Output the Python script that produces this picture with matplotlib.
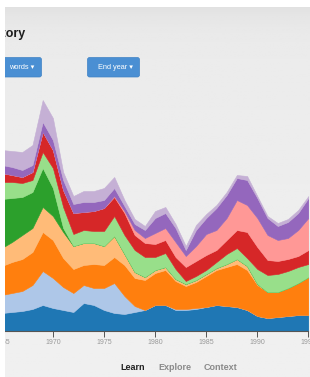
import matplotlib.pyplot as plt
import numpy as np
from matplotlib.patches import Rectangle, FancyBboxPatch

plt.rcParams['font.family'] = ['Liberation Sans', 'DejaVu Sans']

W, H = 310, 377

# data: layer thickness per year (arbitrary units)
years = list(range(1965, 1996))
blue = [18, 19, 20, 22, 26, 23, 21, 19, 28, 26, 21, 18, 17, 19, 21, 26, 26, 21, 21, 22,
        24, 26, 25, 24, 21, 15, 13, 14, 15, 16, 16]
light_blue = [18, 19, 20, 24, 34, 30, 23, 19, 18, 17, 22, 30, 18, 6, 0, 0, 0, 1, 1, 1,
              0, 0, 0, 0, 0, 0, 0, 0, 0, 0, 0]
orange = [29, 31, 32, 33, 39, 38, 29, 24, 20, 24, 23, 26, 31, 28, 30, 32, 35, 28, 23, 26,
          31, 35, 39, 43, 40, 31, 26, 25, 28, 32, 38]
light_orange = [18, 20, 24, 24, 25, 24, 26, 23, 22, 21, 19, 21, 11, 6, 3, 3, 3, 2, 2, 2,
                2, 2, 3, 5, 4, 1, 0, 0, 0, 0, 0]
green = [49, 44, 38, 36, 39, 28, 4, 0, 0, 0, 0, 0, 0, 0, 0, 0, 0, 0, 0, 0,
         0, 0, 0, 0, 0, 0, 0, 0, 0, 0, 0]
light_green = [17, 16, 14, 12, 16, 20, 21, 12, 13, 12, 15, 20, 19, 22, 20, 13, 14, 10, 3, 4,
               4, 6, 10, 11, 8, 15, 17, 18, 17, 16, 13]
red = [9, 7, 6, 8, 20, 18, 17, 21, 18, 20, 23, 19, 22, 15, 14, 13, 13, 12, 14, 15,
       15, 12, 14, 18, 26, 22, 15, 13, 12, 11, 14]
light_red = [0, 0, 0, 0, 0, 0, 0, 0, 0, 0, 0, 1, 2, 5, 5, 11, 12, 15, 11, 15,
             21, 20, 22, 30, 27, 29, 25, 21, 21, 26, 32]
purple = [8, 8, 7, 7, 10, 10, 10, 9, 10, 9, 8, 8, 5, 6, 8, 15, 15, 14, 6, 16,
          16, 22, 23, 22, 25, 20, 17, 14, 16, 17, 20]
light_purple = [15, 16, 18, 20, 22, 22, 8, 8, 11, 11, 12, 11, 6, 5, 4, 7, 6, 4, 4, 5,
                4, 3, 3, 3, 4, 2, 2, 3, 3, 3, 2]

layers = [blue, light_blue, orange, light_orange, green, light_green,
          red, light_red, purple, light_purple]
colors = ['#1f77b4', '#aec7e8', '#ff7f0e', '#ffbb78', '#2ca02c', '#98df8a',
          '#d62728', '#ff9896', '#9467bd', '#c5b0d5']
tick_years = [1965, 1970, 1975, 1980, 1985, 1990, 1995]
nav = ['Learn', 'Explore', 'Context']


def fx(x):
    return x / W


def fy(y):
    return 1 - y / H


fig = plt.figure(figsize=(W / 100, H / 100), dpi=100)
fig.patch.set_facecolor('#ececec')

# page background with a soft shadow under the top edge
bg = fig.add_axes([0, 0, 1, 1], zorder=-10)
grad = np.linspace(0, 1, 200)
shade = 0.92 - 0.06 * np.exp(-grad * 25) + 0.02 * grad
bg.imshow(shade[:, None], cmap='gray', vmin=0, vmax=1, aspect='auto',
          extent=[0, 1, 0, 1], origin='upper')
bg.axis('off')

# stream chart
ax = fig.add_axes([fx(1.8), 46 / H, 306.6 / W, 241 / H])
ax.patch.set_alpha(0)
polys = ax.stackplot(years, layers, colors=colors)
for p, c in zip(polys, colors):
    p.set_edgecolor(c)
    p.set_linewidth(0.4)
ax.set_xlim(1965, 1995)
ax.set_ylim(0, 241)
for s in ['top', 'right', 'left']:
    ax.spines[s].set_visible(False)
ax.spines['bottom'].set_color('#555555')
ax.spines['bottom'].set_linewidth(0.8)
ax.set_yticks([])
ax.set_xticks(tick_years)
ax.set_xticklabels([str(t) for t in tick_years])
ax.tick_params(axis='x', length=4, width=0.7, color='#555555',
               labelsize=5, labelcolor='#999999', pad=1.5)

# header text and controls
fig.text(fx(-18), fy(37), 'History', fontsize=9, fontweight='bold',
         color='#1e1e1e', va='baseline')

for x0, x1, label in [(-40, 41.5, 'words ▾'), (87.5, 139.5, 'End year ▾')]:
    box = FancyBboxPatch((fx(x0), fy(77)), fx(x1 - x0), (77 - 57.5) / H,
                         boxstyle='round,pad=0,rounding_size=0.007',
                         mutation_aspect=W / H, transform=fig.transFigure,
                         facecolor='#4a8fd3', edgecolor='#3f82c4', lw=0.5)
    fig.add_artist(box)
    fig.text(fx(x1 - 7), fy(67.5), label, fontsize=5.3, color='white',
             ha='right', va='center')

nav_x = [132.5, 174.5, 220]
nav_c = ['#222222', '#8a8a8a', '#8a8a8a']
for x, t, c in zip(nav_x, nav, nav_c):
    fig.text(fx(x), fy(367), t, fontsize=6.5, fontweight='bold', color=c,
             ha='center', va='center')

# white margins of the screenshot
fig.add_artist(Rectangle((0, 0), fx(5), 1, transform=fig.transFigure,
                         facecolor='white', edgecolor='none', zorder=100))
fig.add_artist(Rectangle((0, fy(7)), 1, 7 / H, transform=fig.transFigure,
                         facecolor='white', edgecolor='none', zorder=100))

fig.savefig('out.png', dpi=100, facecolor=fig.get_facecolor())
